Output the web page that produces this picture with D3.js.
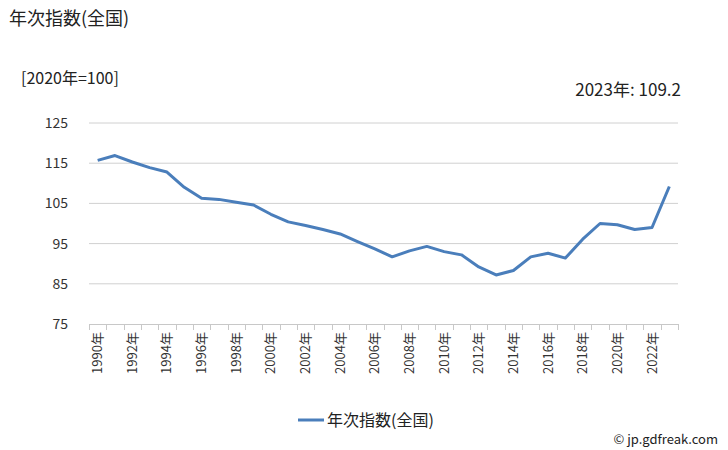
<!DOCTYPE html>
<html><head><meta charset="utf-8">
<script src="https://cdn.jsdelivr.net/npm/d3@7"></script>
<style>body{margin:0;background:#fff}svg{font-family:"Noto Sans CJK JP","Noto Sans",sans-serif}</style>
</head><body>
<svg id="c" width="728" height="450"></svg>
<script>
const years = d3.range(1990, 2024).map(String);
const values = [115.7,116.9,115.3,113.9,112.8,109.0,106.3,106.0,105.3,104.6,102.3,100.4,99.5,98.5,97.4,95.5,93.7,91.7,93.2,94.3,93.0,92.2,89.2,87.2,88.3,91.7,92.6,91.4,96.1,100.0,99.7,98.5,99.0,109.2];
const yTicks = [75,85,95,105,115,125];
const title = "年次指数(全国)";
const seriesName = "年次指数(全国)";

const svg = d3.select("#c");
const L=89,R=678,T=123,B=324;
const x = d3.scaleBand().domain(years).range([L,R]);
const y = d3.scaleLinear().domain([75,125]).range([B,T]);

svg.append("text").attr("x",9).attr("y",25).attr("font-size",18).attr("fill","#222").text(title);
svg.append("text").attr("x",21).attr("y",84).attr("font-size",16).attr("fill","#222").text("[2020年=100]");
svg.append("text").attr("x",681).attr("y",96).attr("text-anchor","end").attr("font-size",17).attr("fill","#222").text("2023年: "+values[values.length-1].toFixed(1));

// grid
svg.append("g").selectAll("line").data(yTicks.slice(1)).join("line")
  .attr("x1",L).attr("x2",R).attr("y1",d=>y(d)).attr("y2",d=>y(d))
  .attr("stroke","#d0d0d0").attr("stroke-width",1);
// y labels
svg.append("g").selectAll("text").data(yTicks).join("text")
  .attr("x",68).attr("y",d=>y(d)+5).attr("text-anchor","end").attr("font-size",14).attr("fill","#333").text(d=>d);
// x axis line
svg.append("line").attr("x1",L).attr("x2",R).attr("y1",B+0.5).attr("y2",B+0.5).attr("stroke","#c8c8c8");
// ticks between categories
const tickPos = years.map(d=>x(d)).concat([R]);
svg.append("g").selectAll("line").data(tickPos).join("line")
  .attr("x1",d=>Math.round(d)+0.5).attr("x2",d=>Math.round(d)+0.5).attr("y1",B).attr("y2",B+6).attr("stroke","#c8c8c8");
// x labels
svg.append("g").selectAll("text").data(years.filter((d,i)=>i%2===0)).join("text")
  .attr("transform",d=>`translate(${x(d)+x.bandwidth()/2+4.5},332) rotate(-90)`)
  .attr("text-anchor","end").attr("font-size",13).attr("fill","#333").text(d=>d+"年");
// line
const line = d3.line().x((d,i)=>x(years[i])+x.bandwidth()/2).y(d=>y(d));
svg.append("path").datum(values).attr("d",line).attr("fill","none")
  .attr("stroke","#4a7ebb").attr("stroke-width",3).attr("stroke-linejoin","round");
// legend
svg.append("line").attr("x1",298).attr("x2",324).attr("y1",420).attr("y2",420).attr("stroke","#4a7ebb").attr("stroke-width",3);
svg.append("text").attr("x",327).attr("y",426).attr("font-size",16).attr("fill","#222").text(seriesName);
svg.append("text").attr("x",718).attr("y",444).attr("text-anchor","end").attr("font-size",13).attr("fill","#222").text("© jp.gdfreak.com");
</script>
</body></html>
